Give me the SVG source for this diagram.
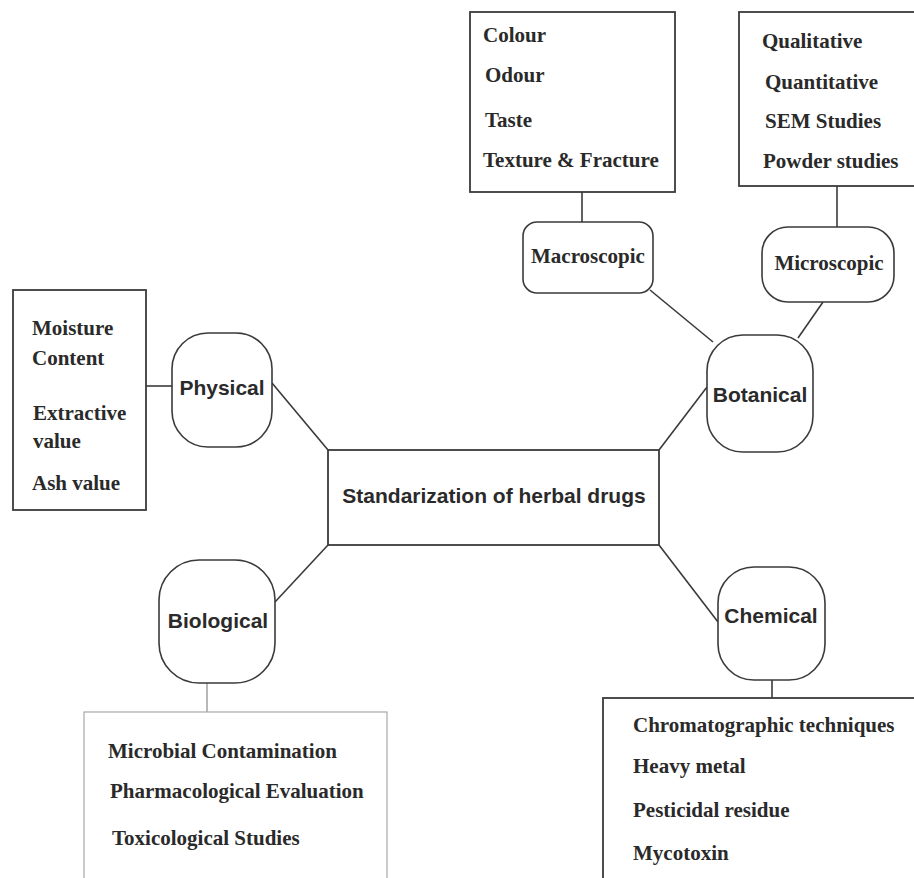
<svg xmlns="http://www.w3.org/2000/svg" width="914" height="878" viewBox="0 0 914 878">
<style>
.box{fill:#fff;stroke:#3a3a3a;stroke-width:1.8}
.lbox{fill:#fff;stroke:#a8a8a8;stroke-width:1.2}
.node{fill:#fff;stroke:#3a3a3a;stroke-width:1.6}
.sans{font-family:"Liberation Sans",Arial,sans-serif;font-weight:bold;font-size:21px;fill:#2a2a2a;text-anchor:middle}
.serif{font-family:"Liberation Serif","Times New Roman",serif;font-weight:bold;font-size:21px;fill:#2a2a2a}
.serifc{font-family:"Liberation Serif","Times New Roman",serif;font-weight:bold;font-size:21px;fill:#2a2a2a;text-anchor:middle}
.conn{stroke:#3a3a3a;stroke-width:1.6;fill:none}
</style>
<rect width="914" height="878" fill="#fff"/>
<g id="connectors">
<line class="conn" x1="582" y1="192" x2="582" y2="222"/>
<line class="conn" x1="837" y1="186" x2="837" y2="227"/>
<line class="conn" x1="650" y1="290" x2="713" y2="342"/>
<line class="conn" x1="823" y1="302" x2="798" y2="338"/>
<line class="conn" x1="146" y1="386" x2="172" y2="386"/>
<line class="conn" x1="272" y1="383" x2="328" y2="450"/>
<line class="conn" x1="659" y1="450" x2="707" y2="387"/>
<line class="conn" x1="659" y1="545" x2="718" y2="622"/>
<line class="conn" x1="772" y1="680" x2="772" y2="698"/>
<line class="conn" x1="275" y1="602" x2="328" y2="545"/>
<line x1="207" y1="683" x2="207" y2="712" stroke="#888" stroke-width="1.2"/>
</g>
<g id="macro-box">
<rect class="box" x="470" y="12" width="205" height="180"/>
<text class="serif" x="483" y="42">Colour</text>
<text class="serif" x="485" y="82">Odour</text>
<text class="serif" x="485" y="127">Taste</text>
<text class="serif" x="483" y="167">Texture &amp; Fracture</text>
</g>
<g id="micro-box">
<rect class="box" x="739" y="12" width="180" height="174"/>
<text class="serif" x="762" y="48">Qualitative</text>
<text class="serif" x="765" y="89">Quantitative</text>
<text class="serif" x="765" y="128">SEM Studies</text>
<text class="serif" x="763" y="168">Powder studies</text>
</g>
<g id="macroscopic">
<rect class="node" x="523" y="222" width="130" height="71" rx="14"/>
<text class="serifc" x="588" y="263">Macroscopic</text>
</g>
<g id="microscopic">
<rect class="node" x="762" y="227" width="132" height="75" rx="26"/>
<text class="serifc" x="829" y="270">Microscopic</text>
</g>
<g id="physical-box">
<rect class="box" x="13" y="290" width="133" height="220"/>
<text class="serif" x="32" y="335">Moisture</text>
<text class="serif" x="32" y="365">Content</text>
<text class="serif" x="33" y="420">Extractive</text>
<text class="serif" x="33" y="448">value</text>
<text class="serif" x="32" y="490">Ash value</text>
</g>
<g id="physical">
<rect class="node" x="172" y="333" width="100" height="114" rx="36"/>
<text class="sans" x="222" y="395">Physical</text>
</g>
<g id="botanical">
<rect class="node" x="707" y="335" width="106" height="117" rx="36"/>
<text class="sans" x="760" y="402">Botanical</text>
</g>
<g id="center">
<rect class="box" x="328" y="450" width="331" height="95"/>
<text class="sans" x="494" y="503">Standarization of herbal drugs</text>
</g>
<g id="biological">
<rect class="node" x="159" y="560" width="116" height="123" rx="40"/>
<text class="sans" x="218" y="628">Biological</text>
</g>
<g id="chemical">
<rect class="node" x="718" y="567" width="107" height="113" rx="36"/>
<text class="sans" x="771" y="623">Chemical</text>
</g>
<g id="bio-box">
<rect class="lbox" x="84" y="712" width="303" height="180"/>
<text class="serif" x="108" y="758">Microbial Contamination</text>
<text class="serif" x="110" y="798">Pharmacological Evaluation</text>
<text class="serif" x="112" y="845">Toxicological Studies</text>
</g>
<g id="chem-box">
<rect class="box" x="603" y="698" width="330" height="200"/>
<text class="serif" x="633" y="732">Chromatographic techniques</text>
<text class="serif" x="633" y="773">Heavy metal</text>
<text class="serif" x="633" y="817">Pesticidal residue</text>
<text class="serif" x="633" y="860">Mycotoxin</text>
</g>
</svg>
